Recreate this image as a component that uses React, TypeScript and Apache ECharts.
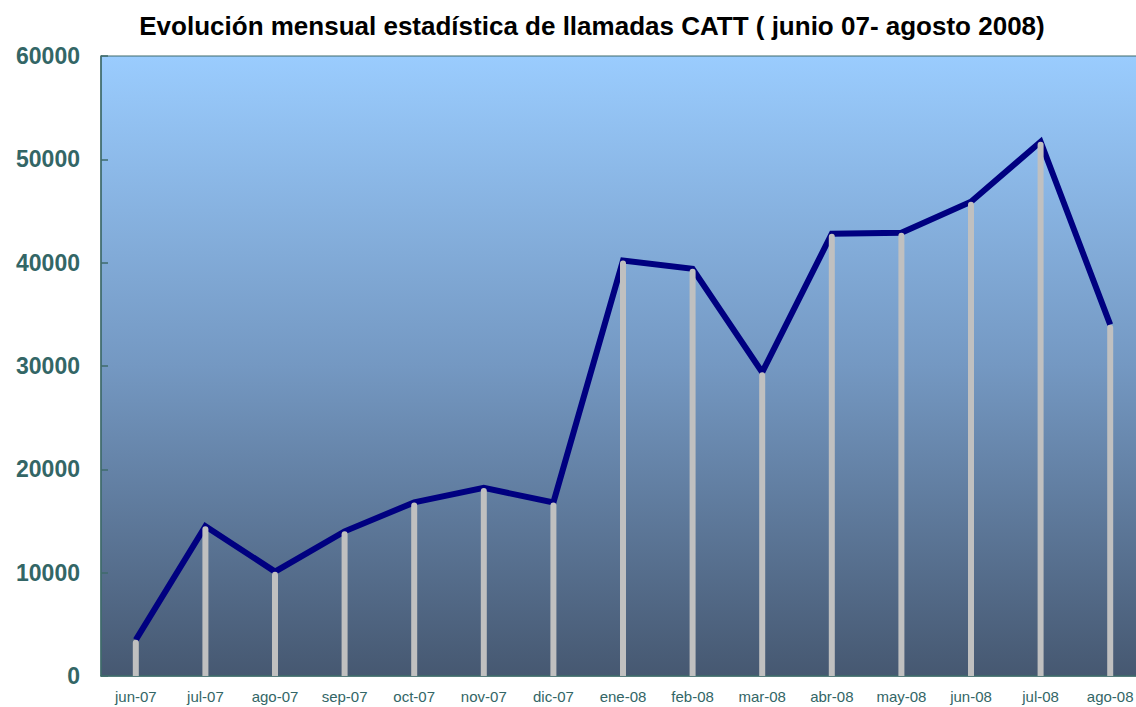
import React, { useEffect, useRef } from "react";
import * as echarts from "echarts";

const categories = ["jun-07", "jul-07", "ago-07", "sep-07", "oct-07", "nov-07", "dic-07", "ene-08", "feb-08", "mar-08", "abr-08", "may-08", "jun-08", "jul-08", "ago-08"];
const llamadas = [3500, 14500, 10100, 14000, 16800, 18200, 16800, 40200, 39400, 29400, 42800, 42900, 45900, 51700, 34000];
const yTicks = { min: 0, max: 60000, interval: 10000 };
const titleText = "Evolución mensual estadística de llamadas CATT ( junio 07- agosto 2008)";

export default function App() {
  const ref = useRef<HTMLDivElement>(null);
  useEffect(() => {
    if (!ref.current) return;
    const chart = echarts.init(ref.current, null, { renderer: "svg" });
    chart.setOption({
      animation: false,
      backgroundColor: "#ffffff",
      title: {
        text: titleText,
        left: 587,
        top: 8,
        textAlign: "center",
        textStyle: { fontFamily: "Liberation Sans, Arial, sans-serif", fontWeight: "bold", fontSize: 26, color: "#000000" },
      },
      grid: {
        left: 101,
        top: 56,
        width: 1044,
        height: 620,
        show: true,
        borderColor: "#3F6B6B",
        borderWidth: 1,
        backgroundColor: new echarts.graphic.LinearGradient(0, 0, 0, 1, [
          { offset: 0, color: "#9ACCFE" },
          { offset: 0.5, color: "#7498C2" },
          { offset: 1, color: "#465871" },
        ]),
      },
      xAxis: {
        type: "category",
        data: categories,
        axisLine: { show: true, lineStyle: { color: "#3F6B6B", width: 1.5 } },
        axisTick: { show: false },
        axisLabel: { color: "#336666", fontSize: 15, margin: 13, fontFamily: "Liberation Sans, Arial, sans-serif", interval: 0 },
        splitLine: { show: false },
      },
      yAxis: {
        type: "value",
        min: yTicks.min,
        max: yTicks.max,
        interval: yTicks.interval,
        axisLine: { show: true, lineStyle: { color: "#3F6B6B", width: 1.5 } },
        axisTick: { show: true, inside: true, length: 7, lineStyle: { color: "#3F6B6B", width: 1.5 } },
        axisLabel: {
          color: "#336666",
          fontSize: 23,
          fontWeight: "bold",
          margin: 21,
          fontFamily: "Liberation Sans, Arial, sans-serif",
          formatter: (v: number) => String(v),
        },
        splitLine: { show: false },
      },
      series: [
        {
          type: "line",
          data: llamadas,
          symbol: "none",
          z: 2,
          lineStyle: { color: "#000080", width: 6, join: "miter" },
        },
        {
          type: "bar",
          data: llamadas,
          barWidth: 6,
          z: 3,
          itemStyle: { color: "#C0C0C0", borderRadius: [3, 3, 0, 0] },
        },
      ],
    });
    return () => chart.dispose();
  }, []);
  return <div ref={ref} style={{ position: "fixed", left: 0, top: 0, width: 1145, height: 707 }} />;
}
